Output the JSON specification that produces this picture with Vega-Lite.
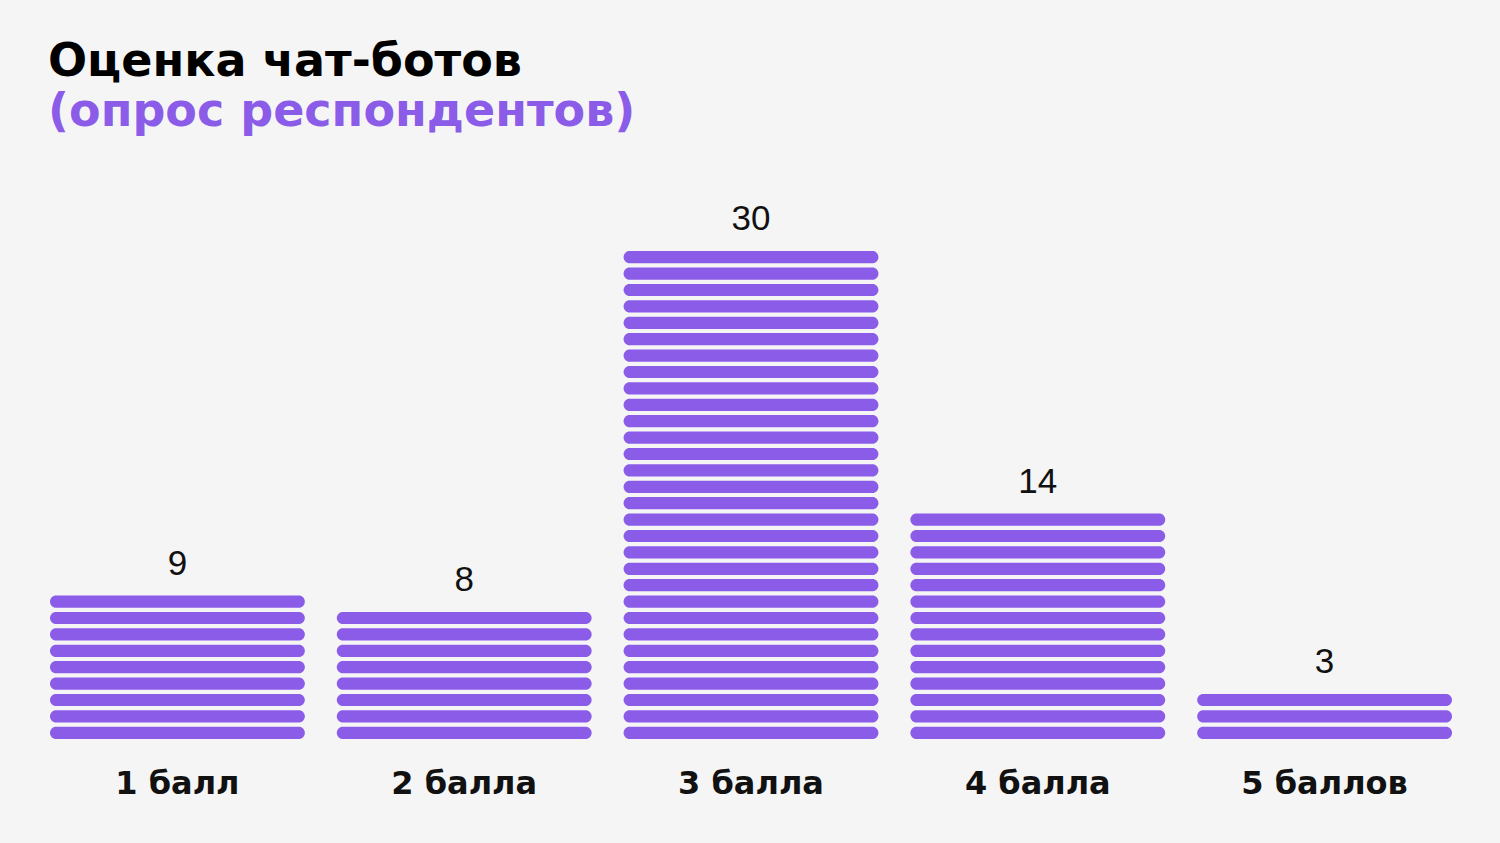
{
  "$schema": "https://vega.github.io/schema/vega-lite/v6.json",
  "autosize": {"type": "none"},
  "width": 1402,
  "height": 492,
  "padding": {"left": 50, "top": 249, "right": 48, "bottom": 102},
  "background": "#f5f5f5",
  "title": {
    "text": "Оценка чат-ботов",
    "subtitle": "(опрос респондентов)",
    "anchor": "start",
    "frame": "group",
    "dx": -2,
    "offset": 66,
    "font": "DejaVu Sans",
    "fontSize": 46,
    "fontWeight": "bold",
    "color": "#000000",
    "subtitleFont": "DejaVu Sans",
    "subtitleFontSize": 46,
    "subtitleFontWeight": "bold",
    "subtitleColor": "#8b5ce8",
    "subtitlePadding": 4
  },
  "datasets": {
    "respondents": [
      {"rating": "1 балл", "respondent": 1}, {"rating": "1 балл", "respondent": 2}, {"rating": "1 балл", "respondent": 3},
      {"rating": "1 балл", "respondent": 4}, {"rating": "1 балл", "respondent": 5}, {"rating": "1 балл", "respondent": 6},
      {"rating": "1 балл", "respondent": 7}, {"rating": "1 балл", "respondent": 8}, {"rating": "1 балл", "respondent": 9},
      {"rating": "2 балла", "respondent": 1}, {"rating": "2 балла", "respondent": 2}, {"rating": "2 балла", "respondent": 3},
      {"rating": "2 балла", "respondent": 4}, {"rating": "2 балла", "respondent": 5}, {"rating": "2 балла", "respondent": 6},
      {"rating": "2 балла", "respondent": 7}, {"rating": "2 балла", "respondent": 8},
      {"rating": "3 балла", "respondent": 1}, {"rating": "3 балла", "respondent": 2}, {"rating": "3 балла", "respondent": 3},
      {"rating": "3 балла", "respondent": 4}, {"rating": "3 балла", "respondent": 5}, {"rating": "3 балла", "respondent": 6},
      {"rating": "3 балла", "respondent": 7}, {"rating": "3 балла", "respondent": 8}, {"rating": "3 балла", "respondent": 9},
      {"rating": "3 балла", "respondent": 10}, {"rating": "3 балла", "respondent": 11}, {"rating": "3 балла", "respondent": 12},
      {"rating": "3 балла", "respondent": 13}, {"rating": "3 балла", "respondent": 14}, {"rating": "3 балла", "respondent": 15},
      {"rating": "3 балла", "respondent": 16}, {"rating": "3 балла", "respondent": 17}, {"rating": "3 балла", "respondent": 18},
      {"rating": "3 балла", "respondent": 19}, {"rating": "3 балла", "respondent": 20}, {"rating": "3 балла", "respondent": 21},
      {"rating": "3 балла", "respondent": 22}, {"rating": "3 балла", "respondent": 23}, {"rating": "3 балла", "respondent": 24},
      {"rating": "3 балла", "respondent": 25}, {"rating": "3 балла", "respondent": 26}, {"rating": "3 балла", "respondent": 27},
      {"rating": "3 балла", "respondent": 28}, {"rating": "3 балла", "respondent": 29}, {"rating": "3 балла", "respondent": 30},
      {"rating": "4 балла", "respondent": 1}, {"rating": "4 балла", "respondent": 2}, {"rating": "4 балла", "respondent": 3},
      {"rating": "4 балла", "respondent": 4}, {"rating": "4 балла", "respondent": 5}, {"rating": "4 балла", "respondent": 6},
      {"rating": "4 балла", "respondent": 7}, {"rating": "4 балла", "respondent": 8}, {"rating": "4 балла", "respondent": 9},
      {"rating": "4 балла", "respondent": 10}, {"rating": "4 балла", "respondent": 11}, {"rating": "4 балла", "respondent": 12},
      {"rating": "4 балла", "respondent": 13}, {"rating": "4 балла", "respondent": 14},
      {"rating": "5 баллов", "respondent": 1}, {"rating": "5 баллов", "respondent": 2}, {"rating": "5 баллов", "respondent": 3}
    ],
    "totals": [
      {"rating": "1 балл", "count": 9},
      {"rating": "2 балла", "count": 8},
      {"rating": "3 балла", "count": 30},
      {"rating": "4 балла", "count": 14},
      {"rating": "5 баллов", "count": 3}
    ]
  },
  "encoding": {
    "x": {
      "field": "rating",
      "type": "nominal",
      "sort": ["1 балл", "2 балла", "3 балла", "4 балла", "5 баллов"],
      "scale": {"paddingInner": 0.1115, "paddingOuter": 0},
      "axis": {
        "title": null,
        "domain": false,
        "ticks": false,
        "labelAngle": 0,
        "labelFont": "DejaVu Sans",
        "labelFontSize": 32,
        "labelFontWeight": "bold",
        "labelColor": "#111111",
        "labelBaseline": "alphabetic",
        "labelPadding": 52
      }
    }
  },
  "layer": [
    {
      "data": {"name": "respondents"},
      "mark": {
        "type": "rect",
        "color": "#8b5ce8",
        "cornerRadius": 6
      },
      "encoding": {
        "y": {
          "field": "respondent",
          "type": "ordinal",
          "scale": {
            "domain": [30, 29, 28, 27, 26, 25, 24, 23, 22, 21, 20, 19, 18, 17, 16, 15, 14, 13, 12, 11, 10, 9, 8, 7, 6, 5, 4, 3, 2, 1],
            "paddingInner": 0.256,
            "paddingOuter": 0.128
          },
          "axis": null
        }
      }
    },
    {
      "data": {"name": "totals"},
      "mark": {
        "type": "text",
        "font": "Liberation Sans",
        "fontSize": 35,
        "baseline": "alphabetic",
        "dy": -27,
        "color": "#111111"
      },
      "encoding": {
        "y": {"field": "count", "type": "ordinal"},
        "text": {"field": "count", "type": "quantitative"}
      }
    }
  ],
  "config": {
    "view": {"stroke": null},
    "axis": {"grid": false}
  }
}
